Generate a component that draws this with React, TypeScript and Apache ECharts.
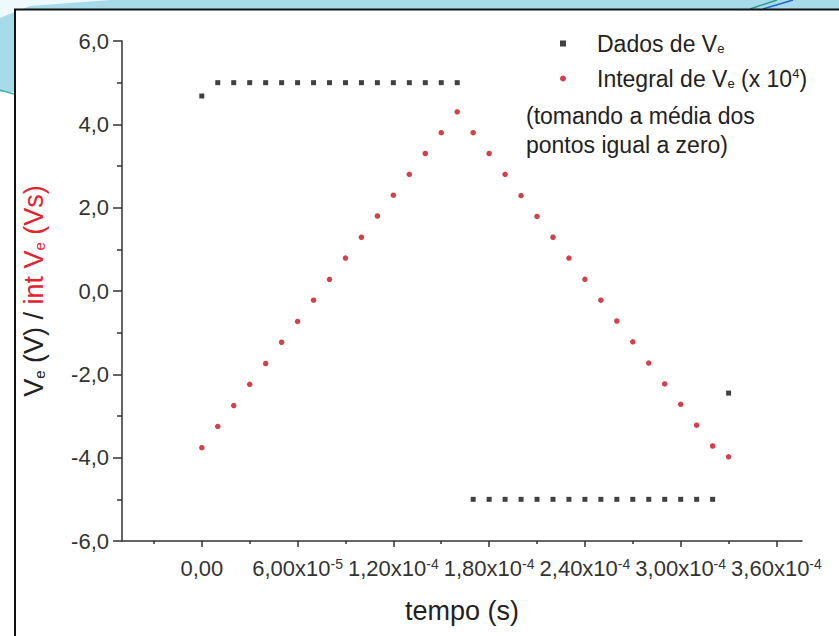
import React, { useEffect, useRef } from "react";
import * as echarts from "echarts";

// time (s)
const TIME = [
  0, 1e-5, 2e-5, 3e-5, 4e-5, 5e-5, 6e-5, 7e-5, 8e-5, 9e-5,
  1.0e-4, 1.1e-4, 1.2e-4, 1.3e-4, 1.4e-4, 1.5e-4, 1.6e-4, 1.7e-4, 1.8e-4, 1.9e-4,
  2.0e-4, 2.1e-4, 2.2e-4, 2.3e-4, 2.4e-4, 2.5e-4, 2.6e-4, 2.7e-4, 2.8e-4, 2.9e-4,
  3.0e-4, 3.1e-4, 3.2e-4, 3.3e-4,
];

// Dados de Ve (V)
const DADOS = [
  4.68, 5.0, 5.0, 5.0, 5.0, 5.0, 5.0, 5.0, 5.0, 5.0,
  5.0, 5.0, 5.0, 5.0, 5.0, 5.0, 5.0, -5.0, -5.0, -5.0,
  -5.0, -5.0, -5.0, -5.0, -5.0, -5.0, -5.0, -5.0, -5.0, -5.0,
  -5.0, -5.0, -5.0, -2.45,
];

// Integral de Ve (x 10^4) (Vs)
const INTEGRAL = [
  -3.76, -3.25, -2.75, -2.24, -1.74, -1.23, -0.73, -0.22, 0.28, 0.79,
  1.29, 1.8, 2.3, 2.8, 3.3, 3.8, 4.3, 3.8, 3.3, 2.8,
  2.29, 1.79, 1.29, 0.79, 0.28, -0.22, -0.72, -1.22, -1.73, -2.23,
  -2.72, -3.22, -3.72, -3.98,
];

const X_MAJOR_TICKS = [0, 6e-5, 1.2e-4, 1.8e-4, 2.4e-4, 3.0e-4, 3.6e-4];
const X_MINOR_TICKS = [-3e-5, 3e-5, 9e-5, 1.5e-4, 2.1e-4, 2.7e-4, 3.3e-4];
const X_MIN = -5e-5;
const X_MAX = 3.76e-4;
const Y_MIN = -6;
const Y_MAX = 6;
const Y_STEP = 2;

const SERIES_DADOS = "Dados de Ve";
const SERIES_INT = "Integral de Ve";

const FONT = "Liberation Sans, Arial, sans-serif";
const BLUE = "#a7dbea";
const RED_TEXT = "#e3242f";

function fmtX(v: number): string {
  if (Math.abs(v) < 1e-12) return "0,00";
  const e = Math.floor(Math.log10(Math.abs(v)) + 1e-9);
  const m = v / Math.pow(10, e);
  return m.toFixed(2).replace(".", ",") + "x10{sup|" + e + "}";
}

export default function App() {
  const ref = useRef<HTMLDivElement>(null);
  useEffect(() => {
    document.body.style.margin = "0";
    if (!ref.current) return;
    const chart = echarts.init(ref.current, null, { renderer: "svg" });
    const option: any = {
      animation: false,
      backgroundColor: "#ffffff",
      textStyle: { fontFamily: FONT },
      grid: {
        left: 122,
        right: 37,
        top: 41,
        bottom: 95,
        containLabel: false,
        outerBoundsMode: "none",
      },
      legend: {
        orient: "vertical",
        left: 555,
        top: 27,
        itemWidth: 6,
        itemHeight: 6,
        itemGap: 12,
        data: [SERIES_DADOS, SERIES_INT],
        formatter: (name: string) =>
          name === SERIES_DADOS
            ? "Dados de V{sub|e}"
            : "Integral de V{sub|e} (x 10{sup|4})",
        textStyle: {
          fontFamily: FONT,
          fontSize: 23,
          color: "#222",
          padding: [0, 0, 0, 26],
          rich: {
            sub: { fontSize: 13, verticalAlign: "bottom", color: "#222", fontFamily: FONT },
            sup: { fontSize: 13, verticalAlign: "top", color: "#222", fontFamily: FONT },
          },
        },
      },
      graphic: [
        { type: "rect", shape: { x: 0, y: 0, width: 839, height: 9 }, style: { fill: BLUE }, silent: true },
        { type: "rect", shape: { x: 0, y: 0, width: 14, height: 92 }, style: { fill: BLUE }, silent: true },
        { type: "polygon", shape: { points: [[0, 0], [110, 0], [30, 6], [0, 18]] }, style: { fill: "#eef9fc" }, silent: true },
        { type: "line", shape: { x1: 0, y1: 90, x2: 14, y2: 94 }, style: { stroke: "#3cb3a5", lineWidth: 1.5 }, silent: true },
        { type: "line", shape: { x1: 750, y1: 9, x2: 777, y2: 0 }, style: { stroke: "#2a9d8f", lineWidth: 1.5 }, silent: true },
        { type: "line", shape: { x1: 763, y1: 9, x2: 793, y2: 0 }, style: { stroke: "#2266cc", lineWidth: 1.5 }, silent: true },
        { type: "line", shape: { x1: 14, y1: 9.5, x2: 839, y2: 9.5 }, style: { stroke: "#111", lineWidth: 2 }, silent: true },
        { type: "line", shape: { x1: 15, y1: 9, x2: 15, y2: 636 }, style: { stroke: "#111", lineWidth: 2 }, silent: true },
        {
          type: "text",
          left: 526,
          top: 101,
          silent: true,
          style: {
            text: "(tomando a média dos\npontos igual a zero)",
            font: "23px " + FONT,
            lineHeight: 29,
            fill: "#222",
          },
        },
      ],
      xAxis: [
        {
          type: "value",
          min: X_MIN,
          max: X_MAX,
          position: "bottom",
          splitLine: { show: false },
          axisLine: { show: true, onZero: false, lineStyle: { color: "#333", width: 1.5 } },
          axisTick: { show: true, customValues: X_MAJOR_TICKS, length: 6, lineStyle: { color: "#333", width: 1.5 } },
          axisLabel: {
            customValues: X_MAJOR_TICKS,
            formatter: (v: number) => fmtX(v),
            color: "#333",
            fontSize: 22,
            fontFamily: FONT,
            margin: 16,
            rich: {
              sup: { fontSize: 14, verticalAlign: "top", color: "#333", fontFamily: FONT },
            },
          },
          name: "tempo (s)",
          nameLocation: "middle",
          nameGap: 56,
          nameTextStyle: { fontSize: 27, color: "#222", fontFamily: FONT },
        },
        {
          type: "value",
          min: X_MIN,
          max: X_MAX,
          position: "bottom",
          offset: 0,
          splitLine: { show: false },
          axisLine: { show: false, onZero: false },
          axisTick: { show: true, customValues: X_MINOR_TICKS, length: 3, lineStyle: { color: "#333", width: 1.5 } },
          axisLabel: { show: false },
        },
      ],
      yAxis: {
        type: "value",
        min: Y_MIN,
        max: Y_MAX,
        interval: Y_STEP,
        splitLine: { show: false },
        axisLine: { show: true, onZero: false, lineStyle: { color: "#333", width: 1.5 } },
        axisTick: { show: true, length: 9, lineStyle: { color: "#333", width: 1.5 } },
        minorTick: { show: true, splitNumber: 2, length: 5, lineStyle: { color: "#333", width: 1.5 } },
        minorSplitLine: { show: false },
        axisLabel: {
          formatter: (v: number) => v.toFixed(1).replace(".", ","),
          color: "#333",
          fontSize: 22,
          fontFamily: FONT,
          margin: 13,
        },
        name: "{b|V}{bs|e}{b| (V) / }{r|int V}{rs|e}{r| (Vs)}",
        nameLocation: "middle",
        nameRotate: 90,
        nameGap: 75,
        nameTextStyle: {
          fontSize: 27,
          fontFamily: FONT,
          rich: {
            b: { fontSize: 27, color: "#222", fontFamily: FONT },
            bs: { fontSize: 15, color: "#222", verticalAlign: "bottom", fontFamily: FONT },
            r: { fontSize: 27, color: RED_TEXT, fontFamily: FONT },
            rs: { fontSize: 15, color: RED_TEXT, verticalAlign: "bottom", fontFamily: FONT },
          },
        },
      },
      series: [
        {
          name: SERIES_DADOS,
          type: "scatter",
          symbol: "rect",
          symbolSize: 5,
          itemStyle: { color: "#111111" },
          data: TIME.map((t, i) => [t, DADOS[i]]),
        },
        {
          name: SERIES_INT,
          type: "scatter",
          symbol: "circle",
          symbolSize: 5.5,
          itemStyle: { color: "#c8101f" },
          data: TIME.map((t, i) => [t, INTEGRAL[i]]),
        },
      ],
    };
    chart.setOption(option);
    return () => chart.dispose();
  }, []);
  return <div ref={ref} style={{ width: 839, height: 636 }} />;
}
